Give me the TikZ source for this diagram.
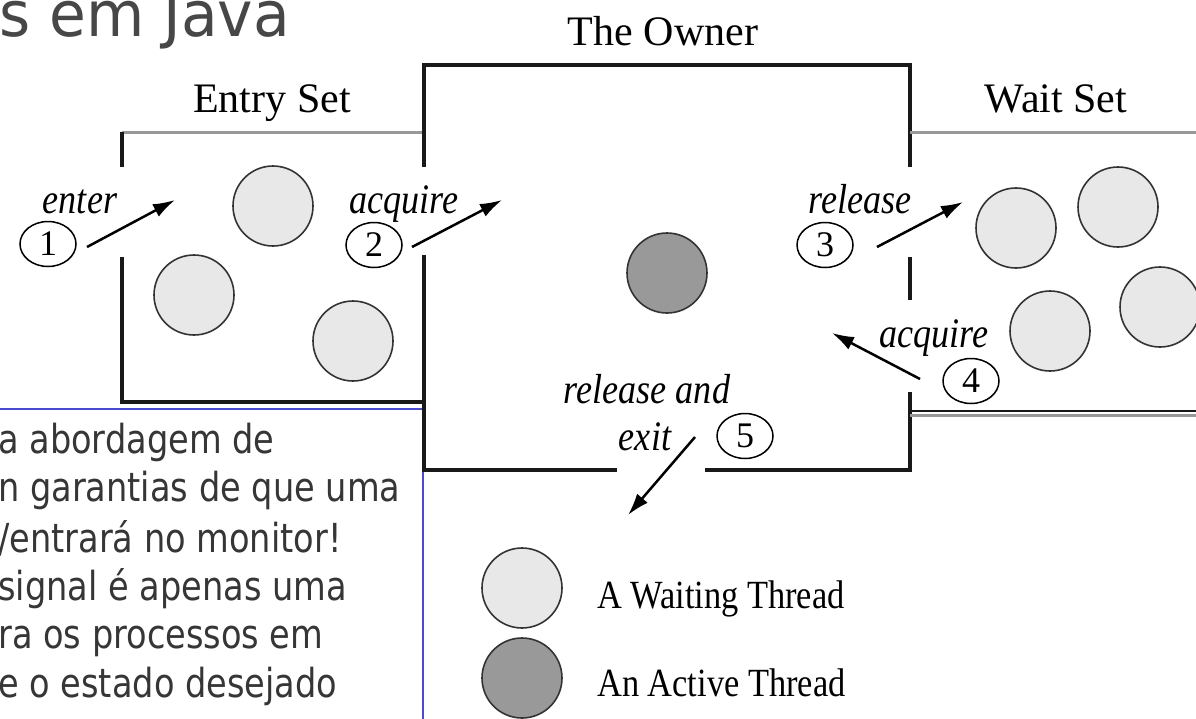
\documentclass[tikz,border=0pt]{standalone}
\usepackage{fontspec}
\setmainfont{Liberation Serif}
\newfontfamily\slidefont[FakeStretch=0.84]{DejaVu Sans}
\newfontfamily\titlefont[FakeStretch=0.95]{DejaVu Sans}
\newfontfamily\narrowserif[FakeStretch=0.86]{Liberation Serif}
\usepackage{tikz}
\usetikzlibrary{shapes.geometric, arrows.meta}

\definecolor{testo}{HTML}{363636}
\definecolor{titolo}{HTML}{474747}
\definecolor{bordo}{HTML}{4B4BD2}
\definecolor{attesa}{HTML}{E8E8E8}
\definecolor{attivo}{HTML}{999999}

\begin{document}
\begin{tikzpicture}[x=1pt, y=-1pt,
    wall/.style={line width=3.6pt, black!90},
    softwall/.style={line width=3pt, black!40},
    waiting/.style={circle, draw=black!80, line width=1.6pt, fill=attesa, minimum size=80pt, inner sep=0pt},
    active/.style={waiting, fill=attivo},
    numtag/.style={ellipse, draw, line width=1.5pt, minimum width=56pt, minimum height=45pt, inner sep=0pt, font=\fontsize{36}{36}\selectfont},
    flow/.style={line width=2.5pt, -{Latex[length=22pt, width=14pt]}},
    azione/.style={font=\narrowserif\itshape\fontsize{42}{44}\selectfont, anchor=base, inner sep=0pt},
    etichetta/.style={font=\fontsize{42}{44}\selectfont, anchor=base, inner sep=0pt},
    riga/.style={font=\slidefont\fontsize{40}{44}\selectfont, text=testo, anchor=base west, inner sep=0pt}
]
    % Sfondo e ritaglio della slide
    \useasboundingbox (0,0) rectangle (1196,718);
    \clip (0,0) rectangle (1196,718);
    \fill[white] (0,0) rectangle (1196,718);

    % Titolo (tagliato a sinistra)
    \node[font=\titlefont\fontsize{63}{66}\selectfont, text=titolo, anchor=base west, inner sep=0pt] (title) at (-1,36) {s em Java};

    % Riquadro con il testo
    \draw[bordo, line width=1.5pt, fill=white] (-10,409) rectangle (423,740);
    \foreach \y/\txt [count=\i] in {453/a abordagem de, 501/n garantias de que uma, 552/{/entrará no monitor!}, 600/signal é apenas uma, 648/ra os processos em, 697/e o estado desejado} {
        \node[riga] (line\i) at (-2,\y) {\txt};
    }

    % Entry Set
    \draw[softwall] (122,132) -- (424,132);
    \draw[wall] (122,132) -- (122,167);
    \draw[wall] (122,257) -- (122,402) -- (424,402);

    % The Owner
    \draw[wall] (424,167) -- (424,65) -- (910,65) -- (910,167);
    \draw[wall] (424,255) -- (424,470) -- (617,470);
    \draw[wall] (705,470) -- (910,470) -- (910,392);
    \draw[wall] (910,257) -- (910,300);

    % Wait Set
    \draw[softwall] (910,132) -- (1200,132);
    \draw[softwall] (910,415) -- (1200,415);
    \draw[line width=2.6pt, black!90] (910,411) -- (1200,411);

    % Titoli dei tre insiemi
    \node[etichetta] (entrylbl) at (272,112) {Entry Set};
    \node[etichetta] (ownerlbl) at (663,45) {The Owner};
    \node[etichetta] (waitlbl) at (1056,112) {Wait Set};

    % Thread in attesa e thread attivo
    \foreach \x/\y [count=\i] in {273/206, 194/295, 353/341} {
        \node[waiting] (entry\i) at (\x,\y) {};
    }
    \foreach \x/\y [count=\i] in {1016/228, 1118/207, 1050/331, 1160/307} {
        \node[waiting] (wait\i) at (\x,\y) {};
    }
    \node[active] (owner) at (667,273) {};

    % Passi numerati
    \node[numtag] (n1) at (48,244) {1};
    \node[numtag] (n2) at (374,245) {2};
    \node[numtag] (n3) at (825,245) {3};
    \node[numtag] (n4) at (971,381) {4};
    \node[numtag] (n5) at (745,436) {5};

    \node[azione] (enter) at (80,213) {enter};
    \node[azione] (acq1) at (404,213) {acquire};
    \node[azione] (rel) at (860,213) {release};
    \node[azione] (acq2) at (934,347) {acquire};
    \node[azione] (relexit) at (647,403) {release and};
    \node[azione] (exit) at (645,450) {exit};

    % Frecce
    \coordinate (a1s) at (87,247);  \coordinate (a1e) at (175,200);
    \coordinate (a2s) at (412,247); \coordinate (a2e) at (502,200);
    \coordinate (a3s) at (877,247); \coordinate (a3e) at (963,202);
    \coordinate (a4s) at (920,379); \coordinate (a4e) at (832,333);
    \coordinate (a5s) at (695,437); \coordinate (a5e) at (628,515);
    \draw[flow] (a1s) -- (a1e);
    \draw[flow] (a2s) -- (a2e);
    \draw[flow] (a3s) -- (a3e);
    \draw[flow] (a4s) -- (a4e);
    \draw[flow] (a5s) -- (a5e);

    % Legenda
    \node[waiting] (legwait) at (522,588) {};
    \node[active] (legact) at (522,678) {};
    \node[font=\narrowserif\fontsize{40}{42}\selectfont, anchor=base west, inner sep=0pt] (legwaittxt) at (597,608) {A Waiting Thread};
    \node[font=\narrowserif\fontsize{40}{42}\selectfont, anchor=base west, inner sep=0pt] (legacttxt) at (597,696) {An Active Thread};
\end{tikzpicture}
\end{document}
